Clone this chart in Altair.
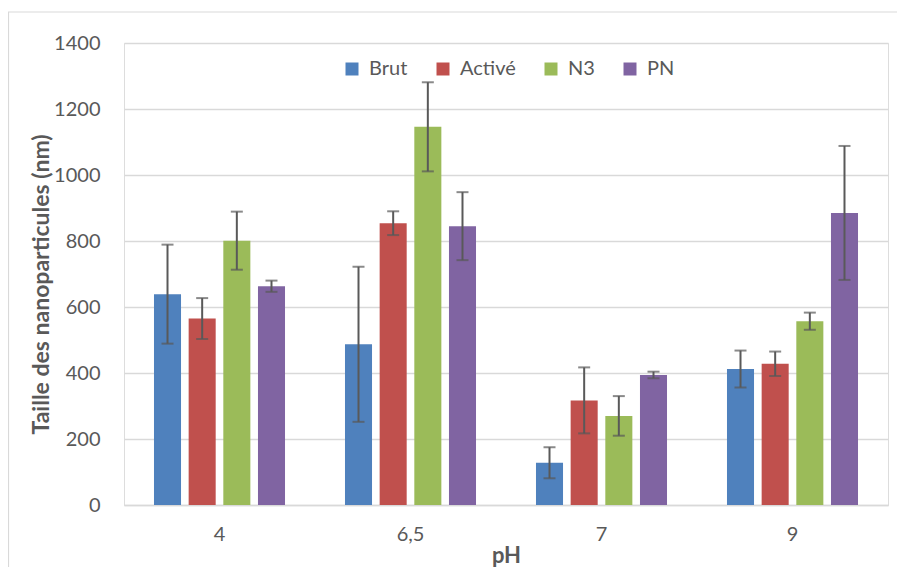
import altair as alt
import pandas as pd

ph = ["4", "6,5", "7", "9"]
series = ["Brut", "Activé", "N3", "PN"]
brut = [639, 487, 128, 412]
brut_err = [150, 235, 47, 56]
active = [565, 854, 317, 428]
active_err = [62, 36, 100, 37]
n3 = [801, 1146, 270, 557]
n3_err = [88, 135, 60, 26]
pn = [663, 845, 394, 885]
pn_err = [17, 103, 10, 203]
colors = ["#4F81BD", "#C0504D", "#9BBB59", "#8064A2"]

values = [brut, active, n3, pn]
errors = [brut_err, active_err, n3_err, pn_err]
rows = []
for s, vals, errs in zip(series, values, errors):
    for p, v, e in zip(ph, vals, errs):
        rows.append({"pH": p, "serie": s, "value": v, "low": v - e, "high": v + e})
df = pd.DataFrame(rows)

FONT = "Lato"
GREY = "#595959"

x_enc = alt.X("pH:N", sort=ph,
              scale=alt.Scale(paddingInner=0.314, paddingOuter=0.157),
              axis=alt.Axis(title="pH", labelAngle=0, ticks=False, labelPadding=19,
                            titlePadding=1, domainColor="#D9D9D9", domainWidth=1.5,
                            labelFontSize=20, titleFontSize=22, titleFontWeight="bold",
                            labelColor=GREY, titleColor=GREY, grid=False))
xo_enc = alt.XOffset("serie:N", sort=series,
                     scale=alt.Scale(paddingInner=0.22, paddingOuter=0))

base = alt.Chart(df)

bars = base.mark_bar().encode(
    x=x_enc,
    xOffset=xo_enc,
    y=alt.Y("value:Q",
            scale=alt.Scale(domain=[0, 1400], nice=False),
            axis=alt.Axis(title="Taille des nanoparticules (nm)",
                          values=[0, 200, 400, 600, 800, 1000, 1200, 1400], format="d",
                          ticks=False, domain=False, labelPadding=24, labelFontSize=20,
                          titleFontSize=23, titleFontWeight="bold", labelColor=GREY, titleColor=GREY,
                          gridColor="#D9D9D9", gridWidth=1.5,
                          titleAngle=270, titleX=-83, titleY=241, titleAlign="center",
                          titleBaseline="middle")),
    color=alt.Color("serie:N", sort=series,
                    scale=alt.Scale(domain=series, range=colors),
                    legend=alt.Legend(title=None, orient="none", direction="horizontal",
                                      legendX=218, legendY=16, symbolType="square",
                                      symbolSize=169, symbolStrokeWidth=0, labelFontSize=20,
                                      labelColor=GREY, labelOffset=7, columnPadding=25,
                                      padding=0, symbolOpacity=1)),
)

rules = base.mark_rule(color=GREY, strokeWidth=2).encode(
    x=alt.X("pH:N", sort=ph), xOffset=alt.XOffset("serie:N", sort=series),
    y="low:Q", y2="high:Q")

caps_hi = base.mark_tick(color=GREY, thickness=2, size=12, orient="horizontal").encode(
    x=alt.X("pH:N", sort=ph), xOffset=alt.XOffset("serie:N", sort=series), y="high:Q")
caps_lo = base.mark_tick(color=GREY, thickness=2, size=12, orient="horizontal").encode(
    x=alt.X("pH:N", sort=ph), xOffset=alt.XOffset("serie:N", sort=series), y="low:Q")

border = alt.Chart(pd.DataFrame({"a": [0]})).mark_rect(
    fill="transparent", stroke="#D9D9D9", strokeWidth=1.2).encode(
    x=alt.value(-115.5), x2=alt.value(1000), y=alt.value(-31), y2=alt.value(1000))

chart = alt.layer(border, bars, rules, caps_hi, caps_lo).properties(
    width=764, height=462,
    padding={"left": 116, "top": 35, "right": 9, "bottom": 62},
    autosize=alt.AutoSizeParams(type="none"),
).configure_view(stroke=None).configure(font=FONT)

chart.save("out.html", embed_options={"renderer": "svg", "actions": False})
